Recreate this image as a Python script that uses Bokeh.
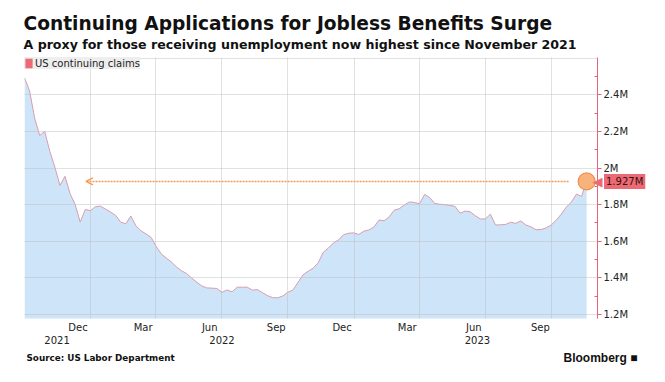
import pandas as pd
from bokeh.plotting import figure
from bokeh.models import (Range1d, LinearAxis, FixedTicker, Grid, Label, Arrow,
                          OpenHead, Legend, LegendItem, ColumnDataSource)
from bokeh.embed import file_html
from bokeh.resources import INLINE

# ---------------- data ----------------
start_date = "2021-10-02"          # first weekly observation (week ending Saturday)
claims_m = [
    2.493, 2.422, 2.274, 2.178, 2.200, 2.091, 2.005, 1.905, 1.955, 1.860,
    1.801, 1.705, 1.774, 1.767, 1.789, 1.792, 1.776, 1.760, 1.741, 1.704,
    1.696, 1.738, 1.685, 1.657, 1.640, 1.621, 1.572, 1.531, 1.508, 1.487,
    1.460, 1.439, 1.424, 1.399, 1.377, 1.356, 1.345, 1.344, 1.342, 1.321,
    1.334, 1.324, 1.349, 1.349, 1.349, 1.333, 1.336, 1.319, 1.303, 1.292,
    1.291, 1.301, 1.322, 1.333, 1.375, 1.417, 1.436, 1.453, 1.483, 1.540,
    1.563, 1.591, 1.607, 1.636, 1.644, 1.646, 1.637, 1.655, 1.662, 1.678,
    1.716, 1.712, 1.733, 1.770, 1.778, 1.798, 1.815, 1.812, 1.805, 1.856,
    1.839, 1.807, 1.802, 1.800, 1.796, 1.791, 1.753, 1.765, 1.761, 1.740,
    1.722, 1.722, 1.748, 1.689, 1.690, 1.692, 1.704, 1.698, 1.711, 1.689,
    1.679, 1.663, 1.664, 1.673, 1.689, 1.715, 1.749, 1.787, 1.815, 1.858,
    1.845, 1.927,
]
last_label = "1.927M"
series_name = "US continuing claims"

month_tick_dates = ["2021-12-15", "2022-03-15", "2022-06-15", "2022-09-15",
                    "2022-12-15", "2023-03-15", "2023-06-15", "2023-09-15"]
month_tick_labels = ["Dec", "Mar", "Jun", "Sep", "Dec", "Mar", "Jun", "Sep"]
year_tick_dates = ["2021-11-16", "2022-07-02", "2023-06-20"]
year_tick_labels = ["2021", "2022", "2023"]
grid_dates = ["2022-01-01", "2022-04-01", "2022-07-01", "2022-10-01",
              "2023-01-01", "2023-04-01", "2023-07-01", "2023-10-01"]
y_ticks = [1.2, 1.4, 1.6, 1.8, 2.0, 2.2, 2.4]
y_tick_labels = ["1.2M", "1.4M", "1.6M", "1.8M", "2M", "2.2M", "2.4M"]

title_text = "Continuing Applications for Jobless Benefits Surge"
subtitle_text = "A proxy for those receiving unemployment now highest since November 2021"
source_text = "Source: US Labor Department"
brand_text = "Bloomberg \u25A0"

# ---------------- helpers ----------------
def ms(d):
    return int(pd.Timestamp(d).value // 10**6)

dates = pd.date_range(start_date, periods=len(claims_m), freq="7D")
src = ColumnDataSource(dict(x=dates, y=claims_m))

FONT = "DejaVu Sans"
AXIS_RED = "#e0677a"
ORANGE = "#f29a55"
TAG_RED = "#ec6a73"

p = figure(width=649, height=376, output_backend="svg", toolbar_location=None,
           x_axis_type=None, y_axis_location="right",
           x_range=Range1d(pd.Timestamp("2021-10-02"), pd.Timestamp("2023-12-03")),
           y_range=Range1d(1.178, 2.604),
           min_border_left=24, min_border_right=52, min_border_top=57, min_border_bottom=58)
p.outline_line_color = None
p.background_fill_color = "white"
p.border_fill_color = "white"

# area + line
p.varea(x="x", y1=0, y2="y", source=src, fill_color="#cde4f9", fill_alpha=1)
p.line(x="x", y="y", source=src, line_color="#d99cb0", line_width=1)

# grids drawn over the area, as in the reference
p.ygrid.ticker = FixedTicker(ticks=y_ticks + [2.6])
p.ygrid.grid_line_color = "#bdbdbd"
p.ygrid.grid_line_alpha = 0.45
p.ygrid.level = "annotation"
p.add_layout(Grid(dimension=0, ticker=FixedTicker(ticks=[ms(d) for d in grid_dates]),
                  grid_line_color="#bdbdbd", grid_line_alpha=0.45, level="annotation"))

# y axis (right)
ya = p.yaxis[0]
ya.ticker = FixedTicker(ticks=y_ticks, minor_ticks=[round(t + 0.1, 1) for t in y_ticks])
ya.major_label_overrides = {t: l for t, l in zip(y_ticks, y_tick_labels)}
ya.axis_line_color = AXIS_RED
ya.major_tick_line_color = AXIS_RED
ya.minor_tick_line_color = AXIS_RED
ya.major_tick_in = 0
ya.major_tick_out = 4
ya.minor_tick_in = 3
ya.minor_tick_out = 0
ya.major_label_standoff = 2
ya.major_label_text_font = FONT
ya.major_label_text_font_size = "10px"
ya.major_label_text_color = "#222222"

# x axes (months, then years)
def text_axis(ticks, labels, standoff):
    t_ms = [ms(d) for d in ticks]
    return LinearAxis(ticker=FixedTicker(ticks=t_ms),
                      major_label_overrides={t: l for t, l in zip(t_ms, labels)},
                      axis_line_color=None, major_tick_line_color=None,
                      minor_tick_line_color=None, major_tick_out=0, major_tick_in=0,
                      major_label_standoff=standoff, major_label_text_font=FONT,
                      major_label_text_font_size="10px", major_label_text_color="#222222")

p.add_layout(text_axis(month_tick_dates, month_tick_labels, 3), "below")
p.add_layout(text_axis(year_tick_dates, year_tick_labels, 0), "below")

# legend (red square swatch)
last_x = dates[-1]
last_y = claims_m[-1]
sq = p.quad(left=[last_x], right=[last_x], top=[last_y], bottom=[last_y],
            fill_color=TAG_RED, line_color=None)
legend = Legend(items=[LegendItem(label=series_name, renderers=[sq])],
                location="top_left", margin=0, padding=4, spacing=0,
                glyph_width=9, glyph_height=12, label_standoff=2,
                label_text_font=FONT, label_text_font_size="10px", label_text_color="#222222",
                label_height=12, label_text_baseline="middle",
                background_fill_color="#eeeeee", background_fill_alpha=1,
                border_line_color=None)
p.add_layout(legend)

# arrow from the latest value back to late 2021
p.add_layout(Arrow(end=OpenHead(size=7, line_color=ORANGE, line_width=1.3),
                   x_start=last_x - pd.Timedelta(days=25), y_start=last_y,
                   x_end=pd.Timestamp("2021-12-26"), y_end=last_y,
                   line_color=ORANGE, line_width=1.5, line_dash="2 1"))
p.scatter(x=[last_x], y=[last_y], size=17, fill_color="#f8b27c", line_color="#ef8f4f",
          line_width=1.2)

# ---- texts outside the frame (side panels are not clipped) ----
p.add_layout(Label(x=-1, y=13, x_units="screen", y_units="screen", text=subtitle_text,
                   text_font=FONT, text_font_style="bold", text_font_size="12.6px",
                   text_color="#111111", text_baseline="alphabetic"), "above")
p.add_layout(Label(x=-1, y=19, x_units="screen", y_units="screen", text=title_text,
                   text_font=FONT, text_font_style="bold", text_font_size="18.6px",
                   text_color="#111111", text_baseline="alphabetic"), "above")
p.add_layout(Label(x=last_x + pd.Timedelta(days=24), y=last_y, x_units="data", y_units="data",
                   text=last_label, text_font=FONT, text_font_size="10px",
                   text_color="#3a1010", text_baseline="middle", text_align="left",
                   background_fill_color=TAG_RED, padding=2), "above")
p.add_layout(Label(x=last_x + pd.Timedelta(days=22), y=last_y, x_units="data", y_units="data",
                   text="\u25C0", text_font=FONT, text_font_size="13px",
                   text_color=TAG_RED, text_baseline="middle", text_align="right"), "left")
p.add_layout(Label(x=2, y=-1, x_units="screen", y_units="screen", text=source_text,
                   text_font=FONT, text_font_style="bold", text_font_size="8.8px",
                   text_color="#111111", text_baseline="alphabetic"), "below")
p.add_layout(Label(x=539, y=13, x_units="screen", y_units="screen", text=brand_text,
                   text_font="Liberation Sans", text_font_style="bold", text_font_size="12px",
                   text_color="#111111", text_baseline="alphabetic"), "below")

open("out.html", "w").write(file_html(p, INLINE))
